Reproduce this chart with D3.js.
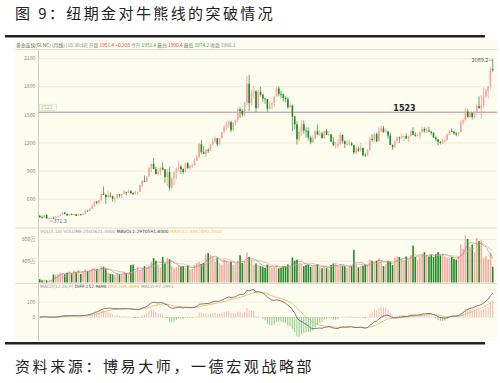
<!DOCTYPE html>
<html>
<head>
<meta charset="utf-8">
<script src="https://cdn.jsdelivr.net/npm/d3@7"></script>
<style>
body { margin: 0; background: #fff; }
svg { display: block; }
</style>
</head>
<body>
<svg id="chart" width="500" height="383"></svg>
<script>
// monthly COMEX gold, Jan 2004 .. Aug 2020 : [open, high, low, close]
const ohlc = [
	// 2004
	[416,428,399,400],[400,419,392,397],[397,428,395,427],[427,432,385,388],[388,398,371.3,394],[394,404,384,395],
	[395,410,387,391],[391,416,389,408],[408,420,400,416],[416,431,412,429],[429,456,427,453],[453,457,430,438],
	// 2005
	[438,440,415,422],[422,439,411,435],[435,445,424,428],[428,438,422,436],[436,438,414,417],[417,443,415,436],
	[436,437,418,430],[430,448,429,434],[434,476,433,473],[473,478,460,470],[470,498,467,495],[495,541,492,518],
	// 2006
	[518,572,515,569],[569,575,538,556],[556,585,540,583],[583,654,580,654],[654,732,640,643],[643,645,543,616],
	[616,680,613,634],[634,666,612,626],[626,635,570,599],[599,612,560,604],[604,650,602,648],[648,650,612,635],
	// 2007
	[635,655,608,652],[652,690,648,669],[669,674,637,663],[663,697,662,680],[680,692,653,659],[659,672,640,650],
	[650,686,648,666],[666,680,640,672],[672,749,670,743],[743,796,724,789],[789,848,775,783],[783,841,780,838],
	// 2008
	[838,935,835,924],[924,977,882,971],[971,1033,915,917],[917,940,858,864],[864,934,848,885],[885,940,855,930],
	[930,991,905,912],[912,918,773,832],[832,915,736,884],[884,936,681,717],[717,830,705,815],[815,890,743,884],
	// 2009
	[884,932,806,928],[928,1007,890,942],[942,962,866,916],[916,925,865,884],[884,984,880,979],[979,992,918,927],
	[927,961,908,954],[954,975,930,955],[955,1025,952,1008],[1008,1070,1000,1040],[1040,1195,1040,1182],[1182,1227,1075,1096],
	// 2010
	[1096,1163,1075,1081],[1081,1130,1045,1118],[1118,1140,1088,1113],[1113,1185,1112,1180],[1180,1249,1165,1213],[1213,1266,1200,1245],
	[1245,1245,1157,1181],[1181,1250,1175,1248],[1248,1310,1243,1308],[1308,1388,1315,1359],[1359,1425,1330,1386],[1386,1432,1359,1421],
	// 2011
	[1421,1425,1310,1333],[1333,1416,1324,1411],[1411,1448,1382,1439],[1439,1576,1420,1556],[1556,1577,1462,1536],[1536,1556,1477,1502],
	[1502,1632,1480,1628],[1628,1911,1600,1828],[1828,1923,1535,1620],[1620,1760,1600,1724],[1724,1804,1668,1746],[1746,1764,1523,1566],
	// 2012
	[1566,1763,1562,1740],[1740,1792,1690,1711],[1711,1720,1627,1669],[1669,1677,1613,1664],[1664,1666,1527,1561],[1561,1641,1550,1604],
	[1604,1628,1555,1622],[1622,1694,1581,1692],[1692,1790,1689,1776],[1776,1798,1691,1719],[1719,1755,1673,1713],[1713,1725,1636,1675],
	// 2013
	[1675,1697,1626,1663],[1663,1684,1555,1578],[1578,1617,1564,1596],[1596,1605,1321,1476],[1476,1488,1338,1393],[1393,1425,1180,1234],
	[1234,1348,1208,1313],[1313,1434,1270,1396],[1396,1434,1290,1327],[1327,1362,1251,1323],[1323,1361,1221,1253],[1253,1267,1182,1202],
	// 2014
	[1202,1280,1200,1240],[1240,1336,1238,1321],[1321,1392,1277,1284],[1284,1331,1268,1295],[1295,1315,1241,1246],[1246,1325,1240,1322],
	[1322,1345,1280,1282],[1282,1324,1273,1287],[1287,1290,1205,1210],[1210,1256,1160,1171],[1171,1205,1131,1175],[1175,1239,1142,1184],
	// 2015
	[1184,1307,1167,1279],[1279,1285,1190,1212],[1212,1224,1142,1183],[1183,1224,1170,1183],[1183,1232,1170,1190],[1190,1205,1162,1172],
	[1172,1175,1072,1095],[1095,1170,1077,1133],[1133,1157,1098,1114],[1114,1192,1106,1142],[1142,1145,1052,1065],[1065,1089,1046,1060],
	// 2016
	[1060,1128,1061,1116],[1116,1263,1107,1238],[1238,1287,1208,1234],[1234,1305,1208,1290],[1290,1307,1200,1215],[1215,1362,1207,1322],
	[1322,1377,1310,1350],[1350,1375,1302,1311],[1311,1352,1306,1317],[1317,1326,1241,1273],[1273,1306,1171,1173],[1173,1180,1123,1152],
	// 2017
	[1152,1220,1146,1211],[1211,1264,1200,1253],[1253,1264,1195,1249],[1249,1297,1240,1268],[1268,1274,1214,1268],[1268,1297,1237,1242],
	[1242,1272,1205,1269],[1269,1331,1263,1322],[1322,1362,1276,1283],[1283,1306,1260,1271],[1271,1300,1264,1275],[1275,1310,1236,1309],
	// 2018
	[1309,1366,1303,1345],[1345,1362,1307,1318],[1318,1357,1303,1327],[1327,1370,1313,1316],[1316,1326,1281,1305],[1305,1309,1247,1253],
	[1253,1265,1212,1233],[1233,1236,1167,1206],[1206,1216,1180,1196],[1196,1247,1183,1215],[1215,1246,1196,1226],[1226,1290,1221,1283],
	// 2019
	[1283,1330,1279,1325],[1325,1349,1311,1316],[1316,1326,1281,1298],[1298,1310,1267,1285],[1285,1311,1268,1311],[1311,1442,1308,1413],
	[1413,1454,1390,1437],[1437,1566,1425,1529],[1529,1560,1465,1472],[1472,1519,1465,1514],[1514,1517,1446,1473],[1473,1526,1455,1523],
	// 2020
	[1523,1612,1519,1588],[1588,1692,1563,1566],[1566,1704,1451,1597],[1597,1788,1567,1694],[1694,1775,1680,1751],[1751,1790,1671,1800],
	[1800,2005,1771,1986],[1986,2089.2,1950,1976]
];

// monthly volume, 万手
const volume = [
	60,40,50,40,30,40,150,140,160,180,170,150,
	180,200,170,220,190,230,160,200,240,210,230,260,
	260,240,220,300,290,250,180,160,150,140,170,150,
	150,200,170,180,320,330,200,280,230,260,300,270,
	310,380,450,400,330,280,470,350,450,430,300,260,
	280,310,290,300,270,310,240,250,330,360,380,340,
	360,520,540,500,470,380,460,350,330,420,400,360,
	380,320,350,400,500,360,390,550,470,410,330,350,
	320,300,290,270,330,300,270,280,320,260,270,300,
	300,330,290,460,400,420,350,340,300,320,330,290,
	300,310,340,280,260,300,270,240,320,350,360,300,
	330,310,300,270,290,300,600,340,280,300,310,330,
	320,420,400,380,400,450,410,300,340,400,380,320,
	450,480,470,430,400,480,420,500,680,470,420,460,
	520,560,500,480,510,470,520,560,500,530,480,460,
	460,470,430,420,480,700,620,870,800,660,700,560,
	820,760,780,450,480,420,550,290
];

const priceTicks = [600, 900, 1200, 1500, 1800, 2100];
const volTicks = [400, 800];
const macdTicks = [0, 100];
const bullBear = 1523;

const months = d3.timeMonth.range(new Date(2004, 0, 1), new Date(2020, 8, 1));
const bars = months.map((m, i) => ({
	m: m, o: ohlc[i][0], h: ohlc[i][1], l: ohlc[i][2], c: ohlc[i][3], v: volume[i]
}));

const UP = "#f3a6a1", UPLINE = "#ec8f8a", DOWN = "#1f8a24";
const FONT = "'Noto Sans CJK SC', 'Noto Sans', sans-serif";

const svg = d3.select("#chart");

// titles
svg.append("text")
	.attr("x", 15).attr("y", 19)
	.attr("font-family", FONT).attr("font-size", 15)
	.attr("letter-spacing", 2.4)
	.attr("fill", "#222")
	.text("图 9：纽期金对牛熊线的突破情况");
svg.append("rect").attr("x", 5).attr("y", 35).attr("width", 480).attr("height", 2.5).attr("fill", "#222");

// chart image area
svg.append("rect").attr("x", 15).attr("y", 40).attr("width", 482).attr("height", 301).attr("fill", "#fdfdef");

svg.append("rect").attr("x", 5).attr("y", 342).attr("width", 480).attr("height", 2.5).attr("fill", "#222");
svg.append("text")
	.attr("x", 15).attr("y", 372)
	.attr("font-family", FONT).attr("font-size", 15)
	.attr("letter-spacing", 2.6)
	.attr("fill", "#222")
	.text("资料来源：博易大师，一德宏观战略部");

// scales
const x = d3.scaleBand().domain(months).range([39, 493.5]).paddingInner(0.3);
const yP = d3.scaleLinear().domain([298, 2187]).range([227, 50]);
const yV = d3.scaleLinear().domain([0, 984]).range([282.5, 229]);
const yM = d3.scaleLinear().domain([-142, 213]).range([339, 284]);
const cx = d => x(d.m) + x.bandwidth() / 2;

// panel separators and axis line
[49.5, 228, 283.5].forEach(yy => {
	svg.append("line").attr("x1", 15).attr("x2", 497).attr("y1", yy).attr("y2", yy)
		.attr("stroke", "#dcdccb").attr("stroke-width", 1.2);
});
svg.append("line").attr("x1", 38.5).attr("x2", 38.5).attr("y1", 50).attr("y2", 341)
	.attr("stroke", "#d0d0c0");

function gridAxis(scale, ticks, fmt) {
	const g = svg.append("g").attr("transform", "translate(38.5,0)")
		.call(d3.axisLeft(scale).tickValues(ticks).tickSizeInner(-458).tickSizeOuter(0).tickPadding(3).tickFormat(fmt));
	g.select(".domain").remove();
	g.selectAll(".tick line").attr("stroke", "#eeeedc");
	g.selectAll(".tick text").attr("fill", "#8a8a80").attr("font-size", 5.2).attr("font-family", FONT);
}
gridAxis(yP, priceTicks, d => d);
gridAxis(yV, volTicks, d => d + "万");
gridAxis(yM, macdTicks, d => d);

// info bar
const info = svg.append("text").attr("x", 16).attr("y", 46.5)
	.attr("font-family", FONT).attr("font-size", 4.8).attr("fill", "#777");
[["黄金连续(GLNC) (月线)", "#666"], ["            [16:30:30] 开盘 ", "#888"], ["1951.4", "#e04040"],
 [" +0.208 ", "#e04040"], [" 今开 ", "#888"], ["1951.4", "#3a9a3a"], [" 最高 ", "#888"], ["1990.4", "#e04040"],
 [" 最低 ", "#888"], ["1974.2", "#3a9a3a"], [" 收盘 1960.3", "#888"]]
	.forEach(s => info.append("tspan").attr("fill", s[1]).text(s[0]));

// bull/bear line
svg.append("line")
	.attr("x1", 39).attr("x2", 497)
	.attr("y1", yP(bullBear)).attr("y2", yP(bullBear))
	.attr("stroke", "#a48ba4").attr("stroke-width", 1);
svg.append("rect").attr("x", 39.5).attr("y", yP(bullBear) - 8).attr("width", 17).attr("height", 6)
	.attr("fill", "none").attr("stroke", "#c6e6c0").attr("stroke-width", 0.6);
svg.append("text").attr("x", 41).attr("y", yP(bullBear) - 3.3)
	.attr("font-family", FONT).attr("font-size", 5).attr("fill", "#9bd09b").text(bullBear);
svg.append("text").attr("x", 404.5).attr("y", yP(bullBear) - 1.5)
	.attr("text-anchor", "middle")
	.attr("font-family", "'DejaVu Sans', sans-serif").attr("font-weight", "bold").attr("font-size", 8)
	.attr("fill", "#222").text(bullBear);

// candles
const candle = svg.append("g").selectAll("g").data(bars).join("g");
candle.append("line")
	.attr("x1", cx).attr("x2", cx)
	.attr("y1", d => yP(d.h)).attr("y2", d => yP(d.l))
	.attr("stroke", d => d.c >= d.o ? UPLINE : DOWN).attr("stroke-width", 0.7);
candle.append("rect")
	.attr("x", d => x(d.m)).attr("width", x.bandwidth())
	.attr("y", d => yP(Math.max(d.o, d.c)))
	.attr("height", d => Math.max(0.8, Math.abs(yP(d.o) - yP(d.c))))
	.attr("fill", d => d.c >= d.o ? UP : DOWN);

// high / low marks
const iMax = d3.maxIndex(bars, d => d.h), iMin = d3.minIndex(bars, d => d.l);
const hi = bars[iMax], lo = bars[iMin];
svg.append("line").attr("x1", cx(hi) - 4).attr("x2", cx(hi)).attr("y1", yP(hi.h) + 1).attr("y2", yP(hi.h) + 1)
	.attr("stroke", "#666").attr("stroke-width", 0.5);
svg.append("text").attr("x", cx(hi) - 4.5).attr("y", yP(hi.h) + 2.8).attr("text-anchor", "end")
	.attr("font-family", FONT).attr("font-size", 5.4).attr("fill", "#555").text(hi.h.toFixed(1));
svg.append("line").attr("x1", cx(lo)).attr("x2", cx(lo) + 4).attr("y1", yP(lo.l) + 1).attr("y2", yP(lo.l) + 1)
	.attr("stroke", "#6070a0").attr("stroke-width", 0.5);
svg.append("text").attr("x", cx(lo) + 4.5).attr("y", yP(lo.l) + 3)
	.attr("font-family", FONT).attr("font-size", 5.4).attr("fill", "#6070a0").text(lo.l.toFixed(1));

// volume
svg.append("g").selectAll("rect").data(bars).join("rect")
	.attr("x", d => x(d.m)).attr("width", x.bandwidth())
	.attr("y", d => yV(d.v)).attr("height", d => yV(0) - yV(d.v))
	.attr("fill", d => d.c >= d.o ? "#f3aba5" : DOWN);

function movingAvg(arr, n) {
	return arr.map((v, i) => i < n - 1 ? null : d3.mean(arr.slice(i - n + 1, i + 1)));
}
const mav1 = movingAvg(volume, 5), mav2 = movingAvg(volume, 10);
const volLine = d3.line().defined(d => d[1] != null).x(d => d[0]).y(d => yV(d[1])).curve(d3.curveMonotoneX);
svg.append("path").attr("d", volLine(bars.map((d, i) => [cx(d), mav1[i]])))
	.attr("fill", "none").attr("stroke", "#7a6a80").attr("stroke-width", 0.6).attr("opacity", 0.8);
svg.append("path").attr("d", volLine(bars.map((d, i) => [cx(d), mav2[i]])))
	.attr("fill", "none").attr("stroke", "#eaa090").attr("stroke-width", 0.7).attr("opacity", 0.9);

const vLeg = svg.append("text").attr("x", 40).attr("y", 233)
	.attr("font-family", "'DejaVu Sans', sans-serif").attr("font-size", 4.4);
[["VOL(5,10)  VOLUME:2502621.0000  ", "#999"], ["MAVOL1:2970591.8000  ", "#334"], ["MAVOL2:3462490.2000", "#f0c060"]]
	.forEach(s => vLeg.append("tspan").attr("fill", s[1]).text(s[0]));

// MACD(12,26,9) from closes
function ema(arr, n) {
	const k = 2 / (n + 1);
	let e = arr[0];
	return arr.map((v, i) => i === 0 ? e : (e = e + k * (v - e)));
}
const closes = bars.map(d => d.c);
const e12 = ema(closes, 12), e26 = ema(closes, 26);
const dif = e12.map((v, i) => v - e26[i]);
const dea = ema(dif, 9);
const hist = dif.map((v, i) => 2 * (v - dea[i]));

svg.append("g").selectAll("line").data(bars).join("line")
	.attr("x1", cx).attr("x2", cx)
	.attr("y1", yM(0)).attr("y2", (d, i) => yM(hist[i]))
	.attr("stroke", (d, i) => hist[i] >= 0 ? "#f0a6a6" : "#6cbc6c").attr("stroke-width", 0.8);
const mLine = d3.line().x(d => d[0]).y(d => yM(d[1]));
svg.append("path").attr("d", mLine(bars.map((d, i) => [cx(d), dea[i]])))
	.attr("fill", "none").attr("stroke", "#eab060").attr("stroke-width", 0.8);
svg.append("path").attr("d", mLine(bars.map((d, i) => [cx(d), dif[i]])))
	.attr("fill", "none").attr("stroke", "#5a5a6e").attr("stroke-width", 0.8);

const mLeg = svg.append("text").attr("x", 40).attr("y", 288)
	.attr("font-family", "'DejaVu Sans', sans-serif").attr("font-size", 4.4);
[["MACD(12,26,9)  ", "#999"], ["DIFF:" + dif[dif.length - 1].toFixed(4) + "  ", "#334"],
 ["DEA:" + dea[dea.length - 1].toFixed(4) + "  ", "#f0b050"], ["MACD:" + hist[hist.length - 1].toFixed(4), "#999"]]
	.forEach(s => mLeg.append("tspan").attr("fill", s[1]).text(s[0]));
</script>
</body>
</html>
